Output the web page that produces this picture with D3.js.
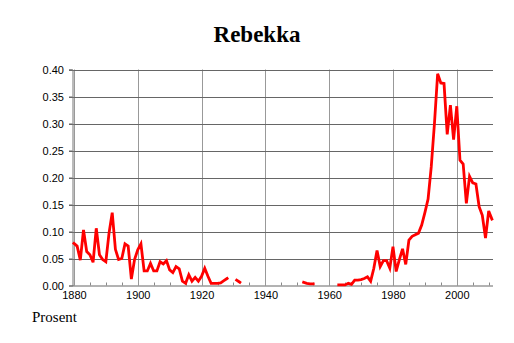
<!DOCTYPE html>
<html>
<head>
<meta charset="utf-8">
<script src="https://cdn.jsdelivr.net/npm/d3@7"></script>
<style>
  html, body { margin: 0; padding: 0; background: #fff; }
  svg { display: block; }
  .tick text { font-family: "Liberation Sans", Arial, sans-serif; font-size: 11px; fill: #000; }
</style>
</head>
<body>
<svg id="chart" width="514" height="343"></svg>
<script>
// ── Data ──────────────────────────────────────────────────────────────────
const title = 'Rebekka';
const yLabel = 'Prosent';
const startYear = 1880;
// share (%) per year from 1880, null = no data
const values = [
  0.078, 0.073, 0.047, 0.103, 0.063, 0.057, 0.043, 0.106, 0.057, 0.048, // 1880
  0.044, 0.097, 0.135, 0.067, 0.048, 0.050, 0.077, 0.073, 0.012, 0.048, // 1890
  0.066, 0.077, 0.027, 0.027, 0.041, 0.027, 0.027, 0.044, 0.040, 0.046, // 1900
  0.029, 0.024, 0.035, 0.031, 0.008, 0.004, 0.020, 0.008, 0.015, 0.008, // 1910
  0.017, 0.032, 0.017, 0.004, 0.004, 0.004, 0.005, 0.009, 0.013, null,  // 1920
  null,  0.010, 0.006, null,  null,  null,  null,  null,  null,  null,  // 1930
  null,  null,  null,  null,  null,  null,  null,  null,  null,  null,  // 1940
  null,  null,  0.006, 0.004, 0.003, 0.003, null,  null,  null,  null,  // 1950
  null,  null,  null,  0.001, 0.001, 0.001, 0.004, 0.002, 0.010, 0.010, // 1960
  0.011, 0.013, 0.016, 0.008, 0.032, 0.065, 0.035, 0.046, 0.046, 0.032, // 1970
  0.072, 0.026, 0.048, 0.068, 0.039, 0.084, 0.091, 0.094, 0.097, 0.112, // 1980
  0.135, 0.160, 0.220, 0.300, 0.392, 0.375, 0.374, 0.280, 0.334, 0.270, // 1990
  0.332, 0.232, 0.225, 0.152, 0.202, 0.190, 0.188, 0.146, 0.130, 0.088, // 2000
  0.138, 0.123                                                          // 2010
];
const xTicks = [1880, 1900, 1920, 1940, 1960, 1980, 2000];
const xMinorTicks = d3.range(1885, 2011, 5).filter(y => y % 20 !== 0);
const yTicks = [0, 0.05, 0.10, 0.15, 0.20, 0.25, 0.30, 0.35, 0.40];

const series = values.map((v, i) => ({ year: startYear + i, v }));

// ── Layout ────────────────────────────────────────────────────────────────
const svg = d3.select('#chart');
const plotL = 72.5, plotR = 493, plotT = 69.5, plotB = 285.5;

const x = d3.scaleLinear().domain([1879.55, 2011.35]).range([plotL, plotR]);
const y = d3.scaleLinear().domain([0, 0.40]).range([plotB, plotT]);

// ── Grid ──────────────────────────────────────────────────────────────────
svg.append('g')
  .selectAll('line')
  .data(xTicks)
  .join('line')
  .attr('x1', d => Math.round(x(d)) + 0.5).attr('x2', d => Math.round(x(d)) + 0.5)
  .attr('y1', plotB).attr('y2', plotT)
  .attr('stroke', '#999').attr('stroke-width', 1);

svg.append('g')
  .selectAll('line')
  .data(yTicks.slice(1))
  .join('line')
  .attr('x1', plotL - 3.5).attr('x2', plotR)
  .attr('y1', d => Math.round(y(d)) + 0.5).attr('y2', d => Math.round(y(d)) + 0.5)
  .attr('stroke', '#666').attr('stroke-width', 1);

// ── Axes ──────────────────────────────────────────────────────────────────
const yAxis = svg.append('g')
  .attr('transform', `translate(${plotL},0)`)
  .call(d3.axisLeft(y).tickValues(yTicks).tickFormat(d3.format('.2f')).tickSize(3.5).tickPadding(5));
yAxis.select('.domain').attr('stroke', '#777');
yAxis.selectAll('.tick line').attr('stroke', '#666');

const xAxis = svg.append('g')
  .attr('transform', `translate(0,${plotB})`)
  .call(d3.axisBottom(x).tickValues(xTicks).tickFormat(d3.format('d')).tickSize(0).tickPadding(6));
xAxis.select('.domain').attr('stroke', '#666').attr('d', `M${plotL},0.5H${plotR}`);

// minor ticks pointing up into the plot
svg.append('g')
  .selectAll('line')
  .data(xMinorTicks)
  .join('line')
  .attr('x1', d => Math.round(x(d)) + 0.5).attr('x2', d => Math.round(x(d)) + 0.5)
  .attr('y1', plotB).attr('y2', plotB - 3)
  .attr('stroke', '#888');

// ── Line ──────────────────────────────────────────────────────────────────
const line = d3.line()
  .defined(d => d.v != null)
  .x(d => x(d.year))
  .y(d => y(d.v));

svg.append('path')
  .datum(series)
  .attr('d', line)
  .attr('fill', 'none')
  .attr('stroke', '#ff0000')
  .attr('stroke-width', 2.8)
  .attr('stroke-linecap', 'square')
  .attr('stroke-linejoin', 'miter');

// ── Labels ────────────────────────────────────────────────────────────────
svg.append('text')
  .attr('x', 257).attr('y', 41.7)
  .attr('text-anchor', 'middle')
  .attr('font-family', '"Liberation Serif", "Times New Roman", serif')
  .attr('font-weight', 'bold')
  .attr('font-size', 23)
  .text(title);

svg.append('text')
  .attr('x', 32).attr('y', 322)
  .attr('font-family', '"Liberation Serif", "Times New Roman", serif')
  .attr('font-size', 15)
  .text(yLabel);
</script>
</body>
</html>
